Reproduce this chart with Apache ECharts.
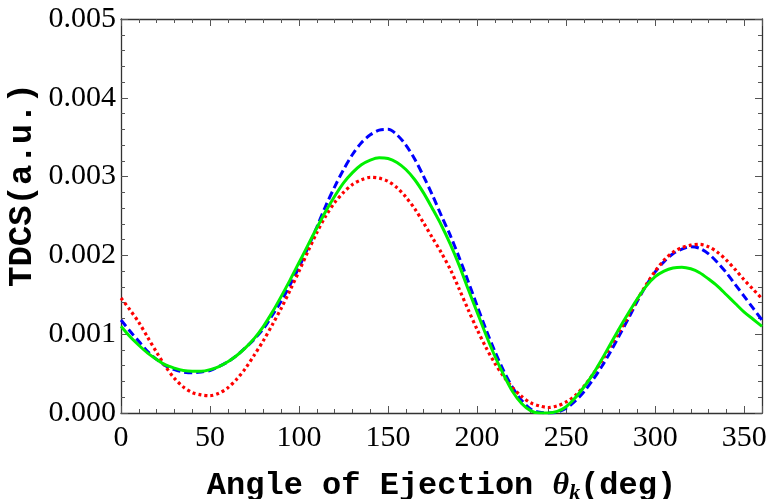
<!DOCTYPE html>
<html>
<head>
<meta charset="utf-8">
<script src="https://cdn.jsdelivr.net/npm/echarts@6/dist/echarts.min.js"></script>
<style>
  html, body { margin: 0; padding: 0; background: #fff; }
  #main { width: 770px; height: 499px; }
</style>
</head>
<body>
<div id="main"></div>
<script>
// angle of ejection, deg
var angles = [0,5,10,15,20,25,30,35,40,45,50,55,60,65,70,75,80,85,90,95,100,105,110,115,
  120,125,130,135,140,145,150,155,160,165,170,175,180,185,190,195,200,205,210,215,220,225,
  230,235,240,245,250,255,260,265,270,275,280,285,290,295,300,305,310,315,320,325,330,335,
  340,345,350,355,360];

// blue dashed curve
var blueTdcs = [0.00118,0.00104,0.00091,0.00078,0.00068,0.00060,0.00055,0.00052,0.00051,
  0.00052,0.00054,0.00059,0.00065,0.00073,0.00083,0.00094,0.00107,0.00124,0.00142,0.00163,
  0.00185,0.00210,0.00236,0.00263,0.00287,0.00309,0.00328,0.00343,0.00353,0.00359,0.00360,
  0.00353,0.00340,0.00322,0.00300,0.00276,0.00250,0.00225,0.00197,0.00167,0.00136,0.00106,
  0.00078,0.00053,0.00032,0.00016,0.00005,0.00001,0.00000,0.00001,0.00006,0.00015,0.00027,
  0.00042,0.00059,0.00078,0.00099,0.00120,0.00142,0.00162,0.00179,0.00192,0.00202,0.00208,
  0.00211,0.00209,0.00202,0.00191,0.00178,0.00163,0.00148,0.00133,0.00118];

// red dotted curve
var redTdcs = [0.00146,0.00131,0.00115,0.00096,0.00077,0.00059,0.00044,0.00033,0.00026,
  0.00023,0.00022,0.00025,0.00032,0.00043,0.00057,0.00074,0.00092,0.00112,0.00133,0.00156,
  0.00180,0.00205,0.00229,0.00250,0.00267,0.00280,0.00290,0.00296,0.00299,0.00298,0.00294,
  0.00286,0.00274,0.00259,0.00241,0.00222,0.00203,0.00182,0.00157,0.00131,0.00106,0.00083,
  0.00063,0.00046,0.00032,0.00021,0.00013,0.00009,0.00007,0.00009,0.00014,0.00022,0.00034,
  0.00049,0.00066,0.00085,0.00104,0.00124,0.00144,0.00163,0.00180,0.00194,0.00204,0.00210,
  0.00213,0.00214,0.00211,0.00204,0.00194,0.00182,0.00169,0.00157,0.00145];

// green solid curve
var greenTdcs = [0.00110,0.00097,0.00086,0.00076,0.00068,0.00061,0.00057,0.00054,0.00053,
  0.00053,0.00055,0.00059,0.00065,0.00073,0.00083,0.00095,0.00110,0.00128,0.00148,0.00169,
  0.00191,0.00213,0.00235,0.00256,0.00275,0.00292,0.00305,0.00315,0.00321,0.00324,0.00323,
  0.00318,0.00309,0.00296,0.00279,0.00259,0.00238,0.00214,0.00187,0.00157,0.00128,0.00099,
  0.00072,0.00048,0.00027,0.00012,0.00003,0.00000,0.00000,0.00002,0.00008,0.00019,0.00033,
  0.00049,0.00068,0.00088,0.00108,0.00127,0.00145,0.00161,0.00173,0.00180,0.00184,0.00185,
  0.00183,0.00178,0.00170,0.00161,0.00150,0.00139,0.00128,0.00119,0.00110];

function pairs(ys) {
  var out = [];
  for (var i = 0; i < angles.length; i++) {
    out.push([angles[i], ys[i]]);
  }
  return out;
}

var chart = echarts.init(document.getElementById('main'));

var labelFont = { fontFamily: 'Liberation Serif', fontSize: 30, color: '#000' };
var axisLine = { show: true, onZero: false, lineStyle: { color: '#333', width: 1.3 } };
var tick = { show: true, inside: true, length: 7, lineStyle: { color: '#555' } };
var minor = { show: true, splitNumber: 5, length: 4, lineStyle: { color: '#555' } };

var option = {
  animation: false,
  backgroundColor: '#fff',
  grid: { left: 121, right: 8, top: 19, bottom: 86, containLabel: false, outerBoundsMode: 'none' },
  graphic: [{
    type: 'text', x: 22, y: 185, rotation: Math.PI / 2,
    style: {
      text: 'TDCS(a.u.)', fontFamily: 'Liberation Mono', fontWeight: 'bold', fontSize: 34,
      fill: '#000', align: 'center', verticalAlign: 'middle'
    }
  }],
  xAxis: [{
    type: 'value', min: 0, max: 360, interval: 50, position: 'bottom',
    name: 'Angle of Ejection {th|θ}{sub|k}(deg)',
    nameLocation: 'middle', nameGap: 55,
    nameTextStyle: {
      fontFamily: 'Liberation Mono', fontWeight: 'bold', fontSize: 32, color: '#000',
      rich: {
        th: { fontFamily: 'Liberation Serif', fontStyle: 'italic', fontSize: 32, color: '#000' },
        sub: { fontFamily: 'Liberation Serif', fontStyle: 'italic', fontSize: 22, color: '#000', padding: [14, 0, 0, 0] }
      }
    },
    axisLine: axisLine, axisTick: tick, minorTick: minor,
    splitLine: { show: false },
    axisLabel: Object.assign({}, labelFont, { margin: 10, formatter: function (v) { return v === 360 ? '' : v; } })
  }, {
    type: 'value', min: 0, max: 360, interval: 50, position: 'top',
    axisLine: axisLine, axisTick: tick, minorTick: minor,
    splitLine: { show: false },
    axisLabel: { show: false }
  }],
  yAxis: [{
    type: 'value', min: 0, max: 0.005, interval: 0.001, position: 'left',
    axisLine: axisLine, axisTick: tick, minorTick: minor,
    splitLine: { show: false },
    axisLabel: Object.assign({}, labelFont, { margin: 5, formatter: function (v) { return v.toFixed(3); } })
  }, {
    type: 'value', min: 0, max: 0.005, interval: 0.001, position: 'right',
    axisLine: axisLine, axisTick: tick, minorTick: minor,
    splitLine: { show: false },
    axisLabel: { show: false }
  }],
  series: [{
    name: 'blue', type: 'line', smooth: 0.3, showSymbol: false, data: pairs(blueTdcs),
    lineStyle: { color: '#0000ff', width: 3, type: [8, 4] }
  }, {
    name: 'red', type: 'line', smooth: 0.3, showSymbol: false, data: pairs(redTdcs),
    lineStyle: { color: '#ff0000', width: 3.2, type: [3, 3] }
  }, {
    name: 'green', type: 'line', smooth: 0.3, showSymbol: false, data: pairs(greenTdcs),
    lineStyle: { color: '#00f000', width: 3 }
  }]
};

chart.setOption(option);
</script>
</body>
</html>
